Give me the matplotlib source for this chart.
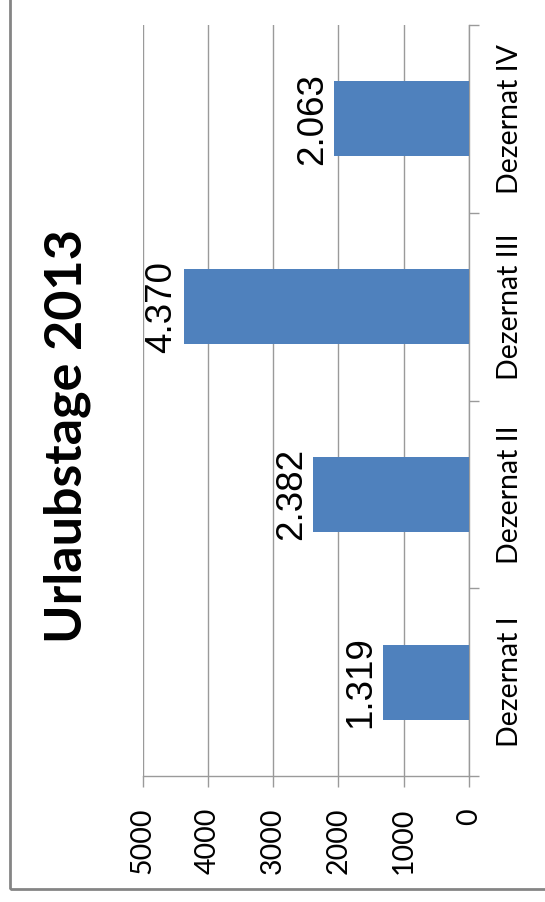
import matplotlib
matplotlib.use("Agg")
import matplotlib.pyplot as plt
from matplotlib.patches import Rectangle

categories = ["Dezernat I", "Dezernat II", "Dezernat III", "Dezernat IV"]
urlaubstage = [1319, 2382, 4370, 2063]
value_ticks = [0, 1000, 2000, 3000, 4000, 5000]
title = "Urlaubstage 2013"

bar_color = "#4F81BD"
grid_color = "#9a9a9a"

fig = plt.figure(figsize=(5.45, 9.02), dpi=100)
ax = fig.add_axes([142.5 / 545, 126 / 902, 326.5 / 545, 751 / 902])

pos = list(range(len(categories)))
bars = ax.barh(pos, urlaubstage, height=0.4, color=bar_color, zorder=3)

# value axis runs right-to-left, categories bottom-to-top
ax.set_xlim(5000, 0)
ax.set_ylim(-0.5, len(categories) - 0.5)

ax.set_xticks(value_ticks)
ax.set_xticklabels([str(v) for v in value_ticks], rotation=90, va="top",
                   fontfamily="Lato", fontsize=20.5)
ax.tick_params(axis="x", length=8, width=1, color=grid_color, pad=15)
ax.xaxis.grid(True, color=grid_color, linewidth=1, zorder=0)

ax.yaxis.tick_right()
ax.set_yticks([p - 0.5 for p in pos] + [pos[-1] + 0.5])
ax.set_yticklabels([])
ax.set_yticks(pos, minor=True)
ax.set_yticklabels(categories, minor=True, rotation=90, va="center",
                   fontfamily="Lato", fontsize=20.5)
ax.tick_params(axis="y", which="major", length=7.5, width=1, color=grid_color)
ax.tick_params(axis="y", which="minor", length=0, pad=20)

for side in ["top", "left"]:
    ax.spines[side].set_visible(False)
for side in ["bottom", "right"]:
    ax.spines[side].set_color(grid_color)
    ax.spines[side].set_linewidth(1)

labels = [f"{v:,}".replace(",", ".") for v in urlaubstage]
ax.bar_label(bars, labels=labels, rotation=90, padding=3,
             fontfamily="Liberation Sans", fontsize=26.5)

fig.text(67 / 545, 1 - 436 / 902, title, rotation=90, ha="center", va="center",
         fontfamily="Lato", fontweight="bold", fontsize=37.5)

# chart frame, open towards the top and right
fig.patches.append(Rectangle((9.5 / 545, 1 - 889 / 902), 1.5, 1.5,
                             transform=fig.transFigure, fill=False,
                             edgecolor="#858585", linewidth=2))

fig.savefig("out.png", dpi=100)
